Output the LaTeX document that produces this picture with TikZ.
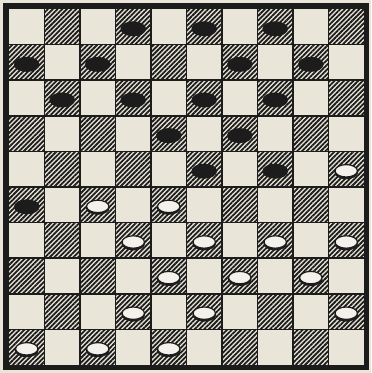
\documentclass[tikz,border=0pt]{standalone}
\usetikzlibrary{patterns.meta}
\definecolor{paper}{HTML}{E9E5D8}
\definecolor{ink}{HTML}{1C1C1C}
\tikzset{
  hatch/.style={pattern={Lines[angle=45,distance=2.5pt,line width=1.35pt]},pattern color=ink},
  gridline/.style={draw=ink,line width=1.3pt},
  frame/.style={draw=ink,line width=3.8pt},
  blackman/.style={fill=ink},
  whiteshadow/.style={fill=ink},
  whiteman/.style={fill=paper!55!white,draw=ink,line width=0.9pt}
}
\begin{document}
\begin{tikzpicture}[x=0.75pt,y=-0.75pt]
\useasboundingbox (0,0) rectangle (371,373);
\fill[paper] (0,0) rectangle (371,373);
% dark squares
\foreach \r in {1,...,10}{
  \foreach \c in {1,...,10}{
    \pgfmathtruncatemacro\odd{mod(\r+\c,2)}
    \ifnum\odd=1
      \fill[hatch] ({9+(\c-1)*35.5},{9+(\r-1)*35.6}) rectangle ++(35.5,35.6);
    \fi
  }
}
% grid
\foreach \i in {1,...,9}{
  \draw[gridline] ({9+\i*35.5},9) -- ({9+\i*35.5},365);
  \draw[gridline] (9,{9+\i*35.6}) -- (364,{9+\i*35.6});
}
\draw[frame] (6,6) rectangle (366.5,367.5);
% black men
\foreach \c/\r in {4/1,6/1,8/1,1/2,3/2,7/2,9/2,2/3,4/3,6/3,8/3,5/4,7/4,6/5,8/5,1/6}{
  \fill[blackman] ({9+(\c-0.5)*35.5},{9+(\r-0.5)*35.6+2}) ellipse [x radius=12.8, y radius=7.5];
}
% white men
\foreach \c/\r in {10/5,3/6,5/6,4/7,6/7,8/7,10/7,5/8,7/8,9/8,4/9,6/9,10/9,1/10,3/10,5/10}{
  \fill[whiteshadow] ({9+(\c-0.5)*35.5},{9+(\r-0.5)*35.6+3.2}) ellipse [x radius=11.8, y radius=6.8];
  \filldraw[whiteman] ({9+(\c-0.5)*35.5},{9+(\r-0.5)*35.6+1.6}) ellipse [x radius=11.2, y radius=6.2];
}
\end{tikzpicture}
\end{document}
